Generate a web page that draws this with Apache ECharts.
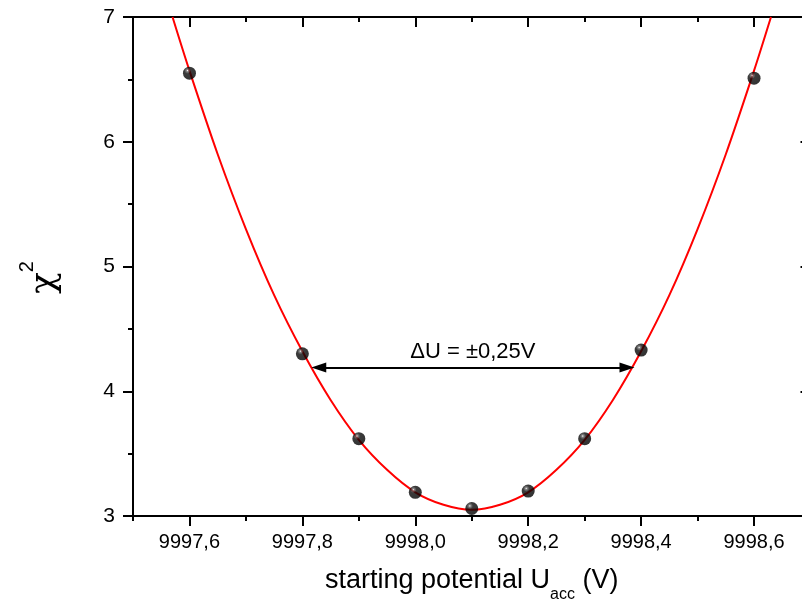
<!DOCTYPE html>
<html>
<head>
<meta charset="utf-8">
<script src="https://cdn.jsdelivr.net/npm/echarts@6/dist/echarts.min.js"></script>
<style>
  html,body{margin:0;padding:0;background:#fff;overflow:hidden}
  #chart{width:812px;height:600px}
</style>
</head>
<body>
<div id="chart"></div>
<script>
// measured points
var xPoints = [9997.6, 9997.8, 9997.9, 9998.0, 9998.1, 9998.2, 9998.3, 9998.4, 9998.6]
var chi2Points = [6.55, 4.30, 3.62, 3.19, 3.06, 3.20, 3.62, 4.33, 6.51]

// fitted curve
var fitX = [9997.57, 9997.6, 9997.65, 9997.7, 9997.75, 9997.8, 9997.85, 9997.9, 9997.95, 9998.0, 9998.05, 9998.1,
            9998.15, 9998.2, 9998.25, 9998.3, 9998.35, 9998.4, 9998.45, 9998.5, 9998.55, 9998.6, 9998.63]
var fitY = [7.00, 6.57, 5.90, 5.30, 4.77, 4.32, 3.93, 3.61, 3.37, 3.19, 3.09, 3.05,
            3.09, 3.19, 3.37, 3.61, 3.93, 4.32, 4.77, 5.30, 5.90, 6.57, 7.00]

// tick values
var xMajorTicks = [9997.6, 9997.8, 9998.0, 9998.2, 9998.4, 9998.6]
var xMinorTicks = [9997.5, 9997.7, 9997.9, 9998.1, 9998.3, 9998.5, 9998.7]

// delta U arrow
var arrowX = [9997.829, 9998.375]
var arrowY = 4.19
var arrowText = 'ΔU = ±0,25V'

var FONT = '"Liberation Sans", Arial, sans-serif'

function xAxisFor(position, ticks, len, labels){
  return {
    type:'value',
    position:position,
    min:9997.5,
    max:9998.7,
    axisLine:{show:true, onZero:false, lineStyle:{color:'#000', width:2}},
    axisTick:{show:true, inside:position === 'top', length:len, customValues:ticks,
      lineStyle:{color:'#000', width:2}},
    axisLabel:{show:!!labels, customValues:ticks, margin:16, fontSize:20, color:'#000', fontFamily:FONT,
      formatter:function(v){ return v.toFixed(1).replace('.', ',') }},
    splitLine:{show:false}
  }
}

function yAxisFor(position, labels){
  return {
    type:'value',
    position:position,
    min:3,
    max:7,
    interval:1,
    axisLine:{show:true, onZero:false, lineStyle:{color:'#000', width:2}},
    axisTick:{show:true, inside:position === 'right', length:10, lineStyle:{color:'#000', width:2}},
    minorTick:{show:true, splitNumber:2, length:5, lineStyle:{color:'#000', width:2}},
    axisLabel:{show:labels, margin:18, fontSize:21, color:'#000', fontFamily:FONT},
    splitLine:{show:false},
    minorSplitLine:{show:false}
  }
}

var chart = echarts.init(document.getElementById('chart'))

var bottomAxis = xAxisFor('bottom', xMajorTicks, 10, true)
bottomAxis.name = '{m|starting potential U}{s|acc}{m| (V)}'
bottomAxis.nameLocation = 'middle'
bottomAxis.nameGap = 51
bottomAxis.nameTextStyle = {
  fontFamily:FONT,
  rich:{
    m:{fontSize:27, color:'#000', fontFamily:FONT, padding:[0,0,9,0], verticalAlign:'bottom'},
    s:{fontSize:16, color:'#000', fontFamily:FONT, verticalAlign:'bottom'}
  }
}

var leftAxis = yAxisFor('left', true)
leftAxis.name = '{c|χ}{s|2}'
leftAxis.nameLocation = 'middle'
leftAxis.nameGap = 70
leftAxis.nameTextStyle = {
  fontFamily:FONT,
  padding:[0,22,0,0],
  rich:{
    c:{fontSize:36, color:'#000', fontFamily:'"DejaVu Serif", serif', padding:[10,0,0,0], verticalAlign:'bottom'},
    s:{fontSize:20, color:'#000', fontFamily:FONT, verticalAlign:'top'}
  }
}

var bottomMinor = xAxisFor('bottom', xMinorTicks, 5, false)
bottomMinor.axisLine.show = false
var topMajor = xAxisFor('top', xMajorTicks, 10, false)
var topMinor = xAxisFor('top', xMinorTicks, 5, false)
topMinor.axisLine.show = false

chart.setOption({
  animation:false,
  grid:{left:133, right:1.5, top:17, bottom:84, outerBoundsMode:'none', containLabel:false},
  xAxis:[bottomAxis, bottomMinor, topMajor, topMinor],
  yAxis:[leftAxis, yAxisFor('right', false)],
  series:[{
    name:'fit',
    type:'line',
    data:fitX.map(function(x, i){ return [x, fitY[i]] }),
    smooth:0.3,
    showSymbol:false,
    lineStyle:{color:'#ff0000', width:2},
    z:2,
    markLine:{
      silent:true,
      symbol:['triangle', 'triangle'],
      symbolSize:[10, 15],
      lineStyle:{color:'#000', width:2, type:'solid'},
      label:{show:true, position:'middle', formatter:arrowText, fontSize:22, color:'#000',
        fontFamily:FONT, distance:5},
      data:[[{coord:[arrowX[0], arrowY]}, {coord:[arrowX[1], arrowY]}]]
    }
  },{
    name:'chi2',
    type:'scatter',
    data:xPoints.map(function(x, i){ return [x, chi2Points[i]] }),
    symbolSize:13,
    z:3,
    itemStyle:{
      color:{type:'radial', x:0.35, y:0.3, r:0.7, colorStops:[
        {offset:0, color:'#f4f4f4'}, {offset:0.12, color:'#666'}, {offset:0.35, color:'#0a0a0a'}, {offset:1, color:'#000'}
      ]}
    }
  }]
})
</script>
</body>
</html>
